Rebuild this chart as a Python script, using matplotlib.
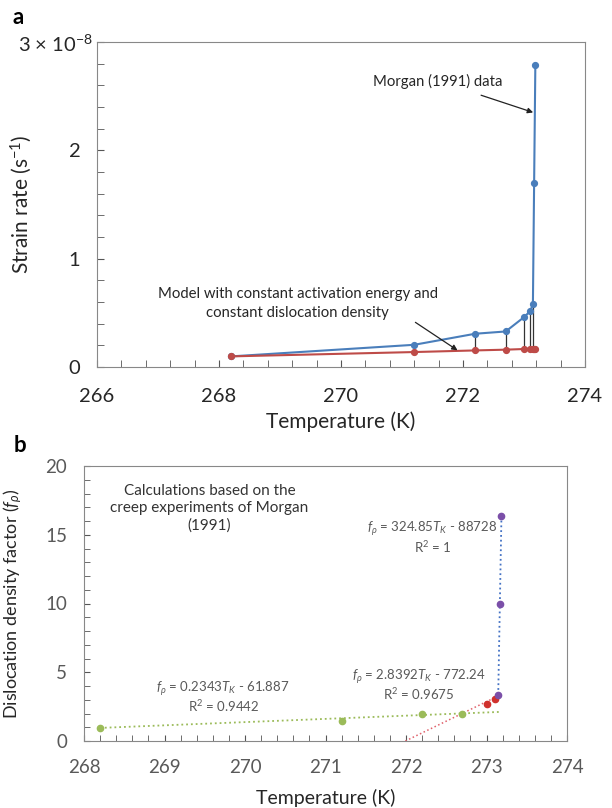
import numpy as np
import matplotlib.pyplot as plt
from matplotlib.ticker import MultipleLocator, FixedLocator

plt.rcParams['font.family'] = ['Lato', 'DejaVu Sans']
plt.rcParams['mathtext.fontset'] = 'custom'
plt.rcParams['mathtext.rm'] = 'Lato'
plt.rcParams['mathtext.it'] = 'Lato:italic'

# temperatures of the Morgan (1991) creep tests (K)
temp = [268.2, 271.2, 272.2, 272.7, 273.0, 273.1, 273.146, 273.166, 273.186]
# strain rates (1e-8 s^-1): measured and modelled
rate_morgan = [0.098, 0.205, 0.307, 0.328, 0.46, 0.515, 0.577, 1.70, 2.79]
rate_model = [0.098, 0.138, 0.153, 0.160, 0.166, 0.167, 0.168, 0.168, 0.168]

# dislocation density factor, grouped by fitted regime
temp_lo = [268.2, 271.2, 272.2, 272.7]
f_lo = [0.95, 1.45, 1.94, 1.99]
temp_mid = [273.0, 273.1]
f_mid = [2.72, 3.03]
temp_hi = [273.146, 273.166, 273.186]
f_hi = [3.37, 9.95, 16.4]

# linear trendlines: slope, intercept, R^2
fit_lo = (0.2343, -61.887, 0.9442)
fit_mid = (2.8392, -772.24, 0.9675)
fit_hi = (324.85, -88728, 1)

blue = '#4a7ebb'
red = '#be4b48'
green = '#9bbb59'
purple = '#7b4fa8'
spine_c = '#888888'
txt_dark = '#262626'
txt_grey = '#595959'

fig = plt.figure(figsize=(6.12, 8.08), dpi=100)

# ---- panel a: strain rate ----
ax = fig.add_axes([97 / 612, 1 - 367 / 808, 488 / 612, 325 / 808])
t = np.array(temp)
ra = np.array(rate_morgan)
rm = np.array(rate_model)
ax.vlines(t[1:7], rm[1:7], ra[1:7], color='#333333', lw=0.9, zorder=2)
ax.plot(t, ra, '-o', color=blue, lw=1.5, ms=4.2, zorder=3)
ax.plot(t, rm, '-o', color=red, lw=1.5, ms=4.2, zorder=3)
ax.set_xlim(266, 274)
ax.set_ylim(0, 3)
ax.xaxis.set_major_locator(MultipleLocator(2))
ax.xaxis.set_minor_locator(MultipleLocator(0.4))
ax.yaxis.set_major_locator(FixedLocator([0, 1, 2, 3]))
ax.yaxis.set_minor_locator(MultipleLocator(0.2))
ax.set_yticklabels(['0', '1', '2', ''])
ax.tick_params(which='both', direction='in', color='#555555', length=5,
               labelcolor=txt_dark, labelsize=14.5)
ax.tick_params(axis='x', pad=15)
ax.tick_params(axis='y', pad=12)
for s in ax.spines.values():
    s.set_color(spine_c)
ax.set_xlabel('Temperature (K)', fontsize=15, color=txt_dark, labelpad=5)
ax.set_ylabel('Strain rate (s$^{-1}$)', fontsize=15, color=txt_dark)
ax.yaxis.set_label_coords(-0.129, 0.5)
fig.text(55 / 612, 1 - 44 / 808, r'3 $\times$ 10$^{-8}$', fontsize=14.5,
         color=txt_dark, ha='center', va='center')

ax.annotate('Morgan (1991) data', xy=(273.15, 2.35), xytext=(271.59, 2.64),
            ha='center', va='center', fontsize=10.7, color=txt_dark,
            arrowprops=dict(arrowstyle='-|>', color='#222222', lw=0.9,
                            shrinkA=9, shrinkB=0, mutation_scale=8))
ax.annotate('Model with constant activation energy and\nconstant dislocation density',
            xy=(271.91, 0.154), xytext=(269.29, 0.59),
            ha='center', va='center', fontsize=10.7, color=txt_dark, linespacing=1.45,
            arrowprops=dict(arrowstyle='-|>', color='#222222', lw=0.9,
                            shrinkA=0, shrinkB=0, mutation_scale=8,
                            relpos=(0.87, 0.2)))
fig.text(18 / 612, 1 - 17 / 808, 'a', fontsize=16, fontweight='bold',
         ha='center', va='center')

# ---- panel b: dislocation density factor ----
bx = fig.add_axes([84 / 612, 1 - 741 / 808, 483 / 612, 275 / 808])

# trendlines drawn from the fitted equations
a, b, _ = fit_lo
tl = np.array([temp_lo[0], temp_hi[-1]])
bx.plot(tl, a * tl + b, ':', color=green, lw=1.3, zorder=2)
a, b, _ = fit_mid
tm = np.array([(0 - b) / a, (f_hi[0] - b) / a])
bx.plot(tm, a * tm + b, ':', color='#e0606a', lw=1.1, zorder=2)
a, b, _ = fit_hi
th = np.array([(f_hi[0] - b) / a, (f_hi[-1] - b) / a])
bx.plot(th, a * th + b, ':', color='#4472c4', lw=1.3, zorder=2)

bx.plot(temp_lo, f_lo, 'o', color=green, ms=4.5, zorder=3)
bx.plot(temp_mid, f_mid, 'o', color='#d0312d', ms=4.5, zorder=3)
bx.plot(temp_hi, f_hi, 'o', color=purple, ms=4.5, zorder=3)

bx.set_xlim(268, 274)
bx.set_ylim(0, 20)
bx.xaxis.set_major_locator(MultipleLocator(1))
bx.xaxis.set_minor_locator(MultipleLocator(0.2))
bx.yaxis.set_major_locator(MultipleLocator(5))
bx.yaxis.set_minor_locator(MultipleLocator(1))
bx.tick_params(which='both', direction='in', color='#555555', labelsize=13.5,
               labelcolor=txt_grey, length=4)
bx.tick_params(axis='x', pad=13)
bx.tick_params(axis='y', pad=12)
for s in bx.spines.values():
    s.set_color(spine_c)
bx.set_xlabel('Temperature (K)', fontsize=14, color=txt_dark, labelpad=9)
bx.set_ylabel(r'Dislocation density factor ($f_\rho$)', fontsize=13,
              color=txt_dark)
bx.yaxis.set_label_coords(-0.124, 0.5)

bx.text(269.56, 16.9, 'Calculations based on the\ncreep experiments of Morgan\n(1991)',
        ha='center', va='center', fontsize=11, color='#333333', linespacing=1.3)


def fit_lines(x, y1, y2, fit):
    a, b, r2 = fit
    bx.text(x, y1, '$f_\\rho$ = %g$T_K$ - %g' % (a, -b), ha='center',
            va='center', fontsize=9.5, color=txt_grey)
    bx.text(x, y2, 'R$^2$ = %g' % r2, ha='center', va='center',
            fontsize=9.5, color=txt_grey)


fit_lines(272.33, 15.44, 14.1, fit_hi)
fit_lines(272.16, 4.65, 3.44, fit_mid)
fit_lines(269.73, 3.8, 2.55, fit_lo)
fig.text(20 / 612, 1 - 445 / 808, 'b', fontsize=16, fontweight='bold',
         ha='center', va='center')

fig.savefig('out.png', dpi=100)
